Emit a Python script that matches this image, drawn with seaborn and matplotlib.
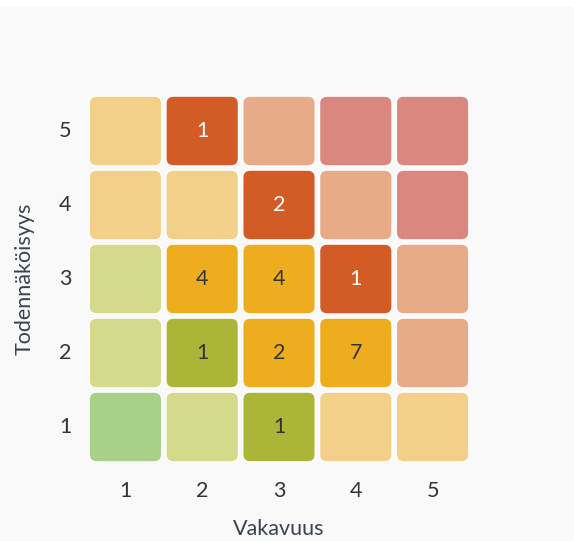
import numpy as np
import matplotlib
matplotlib.use("Agg")
import matplotlib.pyplot as plt
from matplotlib.colors import ListedColormap
from matplotlib.patches import FancyBboxPatch, Rectangle
import seaborn as sns

# Risk matrix: rows are likelihood 5 (top) .. 1 (bottom), columns severity 1..5
severity = ["1", "2", "3", "4", "5"]
likelihood = ["5", "4", "3", "2", "1"]

# Risk level per cell: 0 very low, 1 low, 2 medium, 3 high, 4 very high
risk_level = [
    [2, 3, 3, 4, 4],
    [2, 2, 3, 3, 4],
    [1, 2, 2, 3, 3],
    [1, 1, 2, 2, 3],
    [0, 1, 1, 2, 2],
]

# Number of risks recorded in each cell
risk_count = [
    [0, 1, 0, 0, 0],
    [0, 0, 2, 0, 0],
    [0, 4, 4, 1, 0],
    [0, 1, 2, 7, 0],
    [0, 0, 1, 0, 0],
]

# Pale colour for empty cells, strong colour for cells holding risks
pale_colors = ["#a8d187", "#d5d98c", "#f3d089", "#e8ab88", "#d9877f"]
strong_colors = ["#6fae4a", "#abb537", "#eeac1f", "#d35b26", "#b8322c"]
light_text_levels = [3, 4]

level = np.array(risk_level)
count = np.array(risk_count)
palette = pale_colors + strong_colors
color_index = np.where(count > 0, level + len(pale_colors), level)
labels = np.where(count > 0, count.astype(str), "")

sns.set_theme(style="white")
plt.rcParams["font.family"] = ["Lato", "DejaVu Sans"]

bg = "#f9f9f9"
text_dark = "#333333"
label_color = "#3a4250"
fs = 15.5

fig = plt.figure(figsize=(5.74, 5.41), dpi=100, facecolor=bg)
fig.patches.append(Rectangle((0, 1 - 7 / 541), 1, 7 / 541, transform=fig.transFigure,
                             facecolor="white", edgecolor="none", zorder=0))
ax = fig.add_axes([87 / 574, 77 / 541, 384 / 574, 370 / 541])
ax.set_facecolor(bg)

cmap = ListedColormap(palette)
sns.heatmap(color_index, ax=ax, cmap=cmap, vmin=-0.5, vmax=len(palette) - 0.5,
            annot=labels, fmt="", cbar=False,
            xticklabels=severity, yticklabels=likelihood,
            annot_kws={"fontsize": fs})

# Replace the square mesh with rounded tiles
ax.collections[0].set_visible(False)
inset = 0.028
for i in range(level.shape[0]):
    for j in range(level.shape[1]):
        face = palette[color_index[i, j]]
        tile = FancyBboxPatch((j + inset, i + inset), 1 - 2 * inset, 1 - 2 * inset,
                              boxstyle="round,pad=0,rounding_size=0.1",
                              facecolor=face, edgecolor="white", linewidth=1.0,
                              mutation_aspect=74 / 76.8, zorder=1)
        ax.add_patch(tile)

for txt in ax.texts:
    x, y = txt.get_position()
    i, j = int(y), int(x)
    lvl = level[i, j]
    txt.set_color("white" if lvl in light_text_levels else text_dark)
    txt.set_zorder(3)

ax.set_xlim(0, 5)
ax.set_ylim(5, 0)
ax.tick_params(axis="both", length=0, labelsize=fs, colors=text_dark)
ax.tick_params(axis="x", pad=12)
ax.tick_params(axis="y", pad=11)
plt.setp(ax.get_yticklabels(), rotation=0)
ax.set_xlabel("Vakavuus", fontsize=fs, color=label_color, labelpad=13.5)
ax.set_ylabel("Todennäköisyys", fontsize=fs, color=label_color, labelpad=18)
for s in ax.spines.values():
    s.set_visible(False)

fig.savefig("out.png", dpi=100, facecolor=bg)
